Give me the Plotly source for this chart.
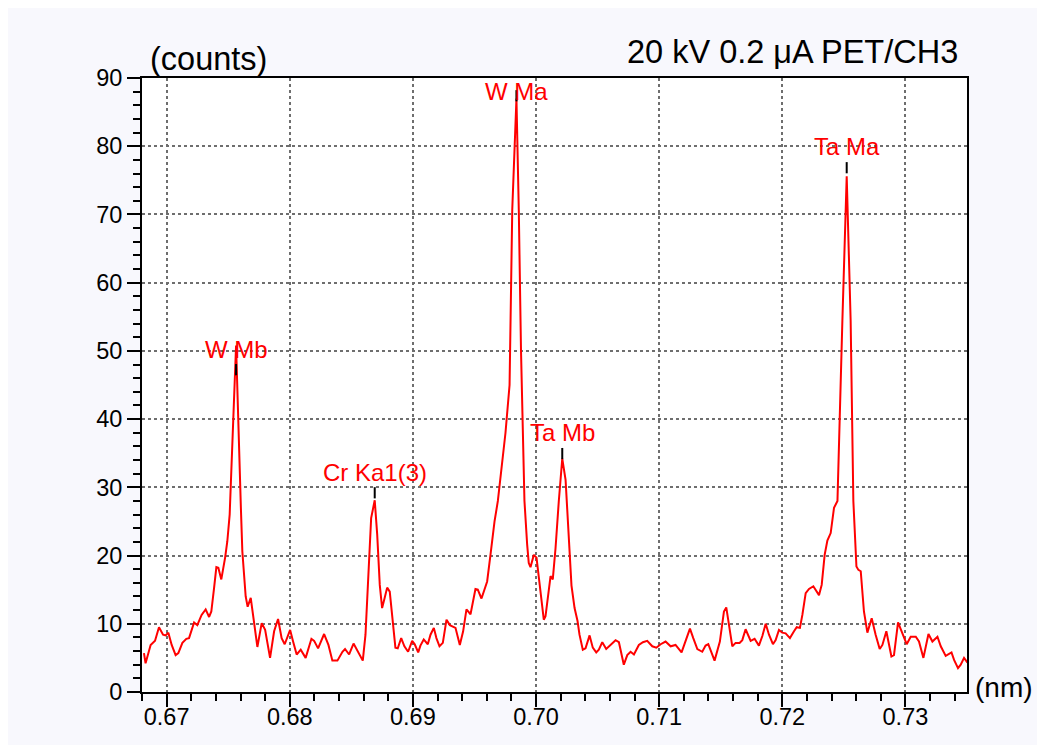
import plotly.graph_objects as go

# Spectrum (wavelength in nm, counts)
wavelength = [
    0.66816, 0.66829, 0.66870, 0.66906, 0.66938, 0.66971, 0.66992, 0.67014, 0.67041, 0.67073,
    0.67095, 0.67128, 0.67160, 0.67182, 0.67223, 0.67249, 0.67284, 0.67317, 0.67345, 0.67363,
    0.67385, 0.67404, 0.67420, 0.67444, 0.67475, 0.67493, 0.67512, 0.67564, 0.67603, 0.67615,
    0.67642, 0.67658, 0.67683, 0.67704, 0.67737, 0.67772, 0.67800, 0.67840, 0.67873, 0.67905,
    0.67934, 0.67959, 0.68003, 0.68027, 0.68056, 0.68089, 0.68129, 0.68176, 0.68198, 0.68230,
    0.68279, 0.68314, 0.68346, 0.68387, 0.68428, 0.68449, 0.68482, 0.68518, 0.68560, 0.68593,
    0.68615, 0.68641, 0.68661, 0.68690, 0.68710, 0.68731, 0.68750, 0.68771, 0.68791, 0.68812,
    0.68831, 0.68858, 0.68877, 0.68905, 0.68931, 0.68961, 0.68994, 0.69015, 0.69043, 0.69061,
    0.69088, 0.69121, 0.69143, 0.69170, 0.69191, 0.69216, 0.69243, 0.69273, 0.69300, 0.69346,
    0.69381, 0.69408, 0.69435, 0.69468, 0.69508, 0.69527, 0.69557, 0.69603, 0.69630, 0.69663,
    0.69690, 0.69720, 0.69752, 0.69785, 0.69807, 0.69841, 0.69860, 0.69878, 0.69894, 0.69906,
    0.69928, 0.69941, 0.69955, 0.69982, 0.70004, 0.70023, 0.70042, 0.70063, 0.70077, 0.70096,
    0.70118, 0.70136, 0.70158, 0.70185, 0.70213, 0.70240, 0.70266, 0.70288, 0.70313, 0.70337,
    0.70353, 0.70380, 0.70402, 0.70435, 0.70461, 0.70489, 0.70510, 0.70538, 0.70570, 0.70605,
    0.70646, 0.70673, 0.70713, 0.70741, 0.70768, 0.70795, 0.70835, 0.70868, 0.70903, 0.70944,
    0.70977, 0.71012, 0.71052, 0.71093, 0.71133, 0.71182, 0.71215, 0.71250, 0.71277, 0.71310,
    0.71350, 0.71377, 0.71399, 0.71424, 0.71450, 0.71493, 0.71526, 0.71545, 0.71567, 0.71594,
    0.71621, 0.71653, 0.71675, 0.71702, 0.71743, 0.71775, 0.71810, 0.71838, 0.71865, 0.71892,
    0.71924, 0.71946, 0.71973, 0.72000, 0.72027, 0.72062, 0.72095, 0.72117, 0.72143, 0.72163,
    0.72190, 0.72217, 0.72252, 0.72271, 0.72298, 0.72320, 0.72344, 0.72366, 0.72393, 0.72420,
    0.72448, 0.72488, 0.72523, 0.72555, 0.72577, 0.72602, 0.72618, 0.72637, 0.72663, 0.72691,
    0.72726, 0.72758, 0.72791, 0.72813, 0.72845, 0.72886, 0.72907, 0.72940, 0.72975, 0.73010,
    0.73043, 0.73084, 0.73110, 0.73146, 0.73187, 0.73219, 0.73260, 0.73287, 0.73327, 0.73374,
    0.73395, 0.73427, 0.73449, 0.73476, 0.73504,
]
counts = [
    5.7, 4.2, 6.9, 7.5, 9.5, 8.4, 8.3, 8.7, 6.9, 5.4,
    5.7, 7.2, 7.8, 7.9, 10.2, 9.8, 11.3, 12.1, 11.0, 11.8,
    15.2, 18.3, 18.2, 16.5, 19.7, 22.1, 26.0, 50.8, 27.0, 20.6,
    14.0, 12.5, 13.8, 10.8, 6.6, 10.1, 9.1, 5.0, 8.9, 10.7,
    7.9, 7.0, 9.1, 7.4, 5.5, 6.2, 5.0, 7.8, 7.5, 6.4,
    8.5, 6.9, 4.6, 4.6, 5.9, 6.3, 5.5, 7.1, 5.7, 4.6,
    8.4, 18.2, 25.5, 28.1, 23.1, 15.7, 12.3, 13.8, 15.3, 14.7,
    10.8, 6.5, 6.4, 7.9, 6.7, 5.9, 7.5, 7.0, 5.8, 6.8,
    7.7, 7.0, 8.4, 9.4, 7.9, 6.7, 7.2, 10.6, 9.8, 9.4,
    6.9, 8.9, 12.1, 11.4, 15.1, 15.0, 13.7, 16.2, 20.1, 25.0,
    28.0, 33.0, 38.0, 45.0, 70.7, 87.0, 70.7, 50.0, 35.0, 28.0,
    21.6, 18.9, 18.3, 20.1, 19.7, 16.7, 13.3, 10.6, 11.1, 14.3,
    17.0, 16.5, 21.0, 28.0, 34.2, 31.1, 23.2, 15.6, 12.3, 10.4,
    8.4, 6.2, 6.4, 8.3, 6.5, 5.8, 6.2, 7.3, 6.3, 6.9,
    7.6, 7.3, 4.0, 5.4, 5.9, 5.5, 6.9, 7.3, 7.5, 6.7,
    6.5, 7.0, 7.4, 6.7, 6.9, 5.8, 7.4, 9.3, 7.9, 6.3,
    5.9, 6.8, 7.0, 5.9, 4.6, 7.4, 11.8, 12.4, 10.1, 6.7,
    7.2, 7.2, 7.6, 9.2, 7.5, 7.8, 6.8, 8.2, 10.0, 8.4,
    7.0, 7.6, 9.1, 8.7, 8.6, 7.9, 8.9, 9.5, 9.4, 11.3,
    14.5, 15.1, 15.5, 15.0, 14.2, 15.7, 20.1, 22.2, 23.3, 27.0,
    28.0, 54.5, 75.6, 54.5, 28.0, 18.4, 17.9, 17.7, 11.8, 8.7,
    10.8, 8.4, 6.3, 6.9, 8.9, 5.2, 5.4, 10.2, 8.6, 7.0,
    8.1, 8.1, 7.4, 5.0, 8.5, 7.4, 8.1, 6.7, 5.3, 5.8,
    4.7, 3.5, 4.0, 5.0, 4.3,
]

# Peak identifications
peak_names = ["W Mb", "Cr Ka1(3)", "W Ma", "Ta Mb", "Ta Ma"]
peak_pos = [0.67564, 0.68690, 0.69841, 0.70213, 0.72523]
label_y = [50.2, 32.2, 88.0, 38.1, 80.0]
marker_y = [47.25, 29.2, 87.4, 34.95, 76.85]

x_range = [0.668, 0.735]
y_range = [0, 90]

FONT = "Liberation Sans, Arial, sans-serif"

fig = go.Figure()
fig.add_trace(go.Scatter(
    x=wavelength, y=counts, mode="lines",
    line=dict(color="#ff0000", width=2),
    hoverinfo="skip", showlegend=False,
))
fig.add_trace(go.Scatter(
    x=peak_pos, y=marker_y, mode="markers",
    marker=dict(symbol="line-ns-open", size=8, color="black",
                line=dict(color="black", width=2)),
    hoverinfo="skip", showlegend=False,
))

for name, px, py in zip(peak_names, peak_pos, label_y):
    fig.add_annotation(x=px, y=py, xref="x", yref="y", text=name,
                       showarrow=False, xanchor="center", yanchor="middle",
                       font=dict(family=FONT, size=24, color="#ff0000"))

fig.add_annotation(x=0.007, y=1.031, xref="paper", yref="paper", text="(counts)",
                   showarrow=False, xanchor="left", yanchor="middle",
                   font=dict(family=FONT, size=32.5, color="black"))
fig.add_annotation(x=0.992, y=1.043, xref="paper", yref="paper",
                   text="20 kV 0.2 μA PET/CH3",
                   showarrow=False, xanchor="right", yanchor="middle",
                   font=dict(family=FONT, size=32.5, color="black"))
fig.add_annotation(x=1.0075, y=0.008, xref="paper", yref="paper", text="(nm)",
                   showarrow=False, xanchor="left", yanchor="middle",
                   font=dict(family=FONT, size=28, color="black"))

axis_common = dict(
    showline=True, linewidth=2, linecolor="black", mirror=True,
    ticks="outside", ticklen=13, tickwidth=2, tickcolor="black",
    showgrid=True, gridcolor="#6e6e6e", griddash="dot", gridwidth=1.5,
    zeroline=False, tickfont=dict(family=FONT, size=23.5, color="black"),
)

fig.update_xaxes(range=x_range, tick0=0.67, dtick=0.01, tickformat=".2f",
                 ticklabelstandoff=-10,
                 minor=dict(tick0=0.668, dtick=0.002, ticks="outside", ticklen=7,
                            tickwidth=2, tickcolor="black", showgrid=False),
                 **axis_common)
fig.update_yaxes(range=y_range, tick0=0, dtick=10,
                 minor=dict(tick0=0, dtick=2, ticks="outside", ticklen=7,
                            tickwidth=2, tickcolor="black", showgrid=False),
                 **axis_common)

fig.update_layout(
    width=1029, height=737, autosize=False,
    margin=dict(l=134, r=70, t=70, b=53, pad=0),
    paper_bgcolor="#f8f8fd", plot_bgcolor="white",
    font=dict(family=FONT, color="black"),
    showlegend=False,
)

fig.write_html("out.html")
